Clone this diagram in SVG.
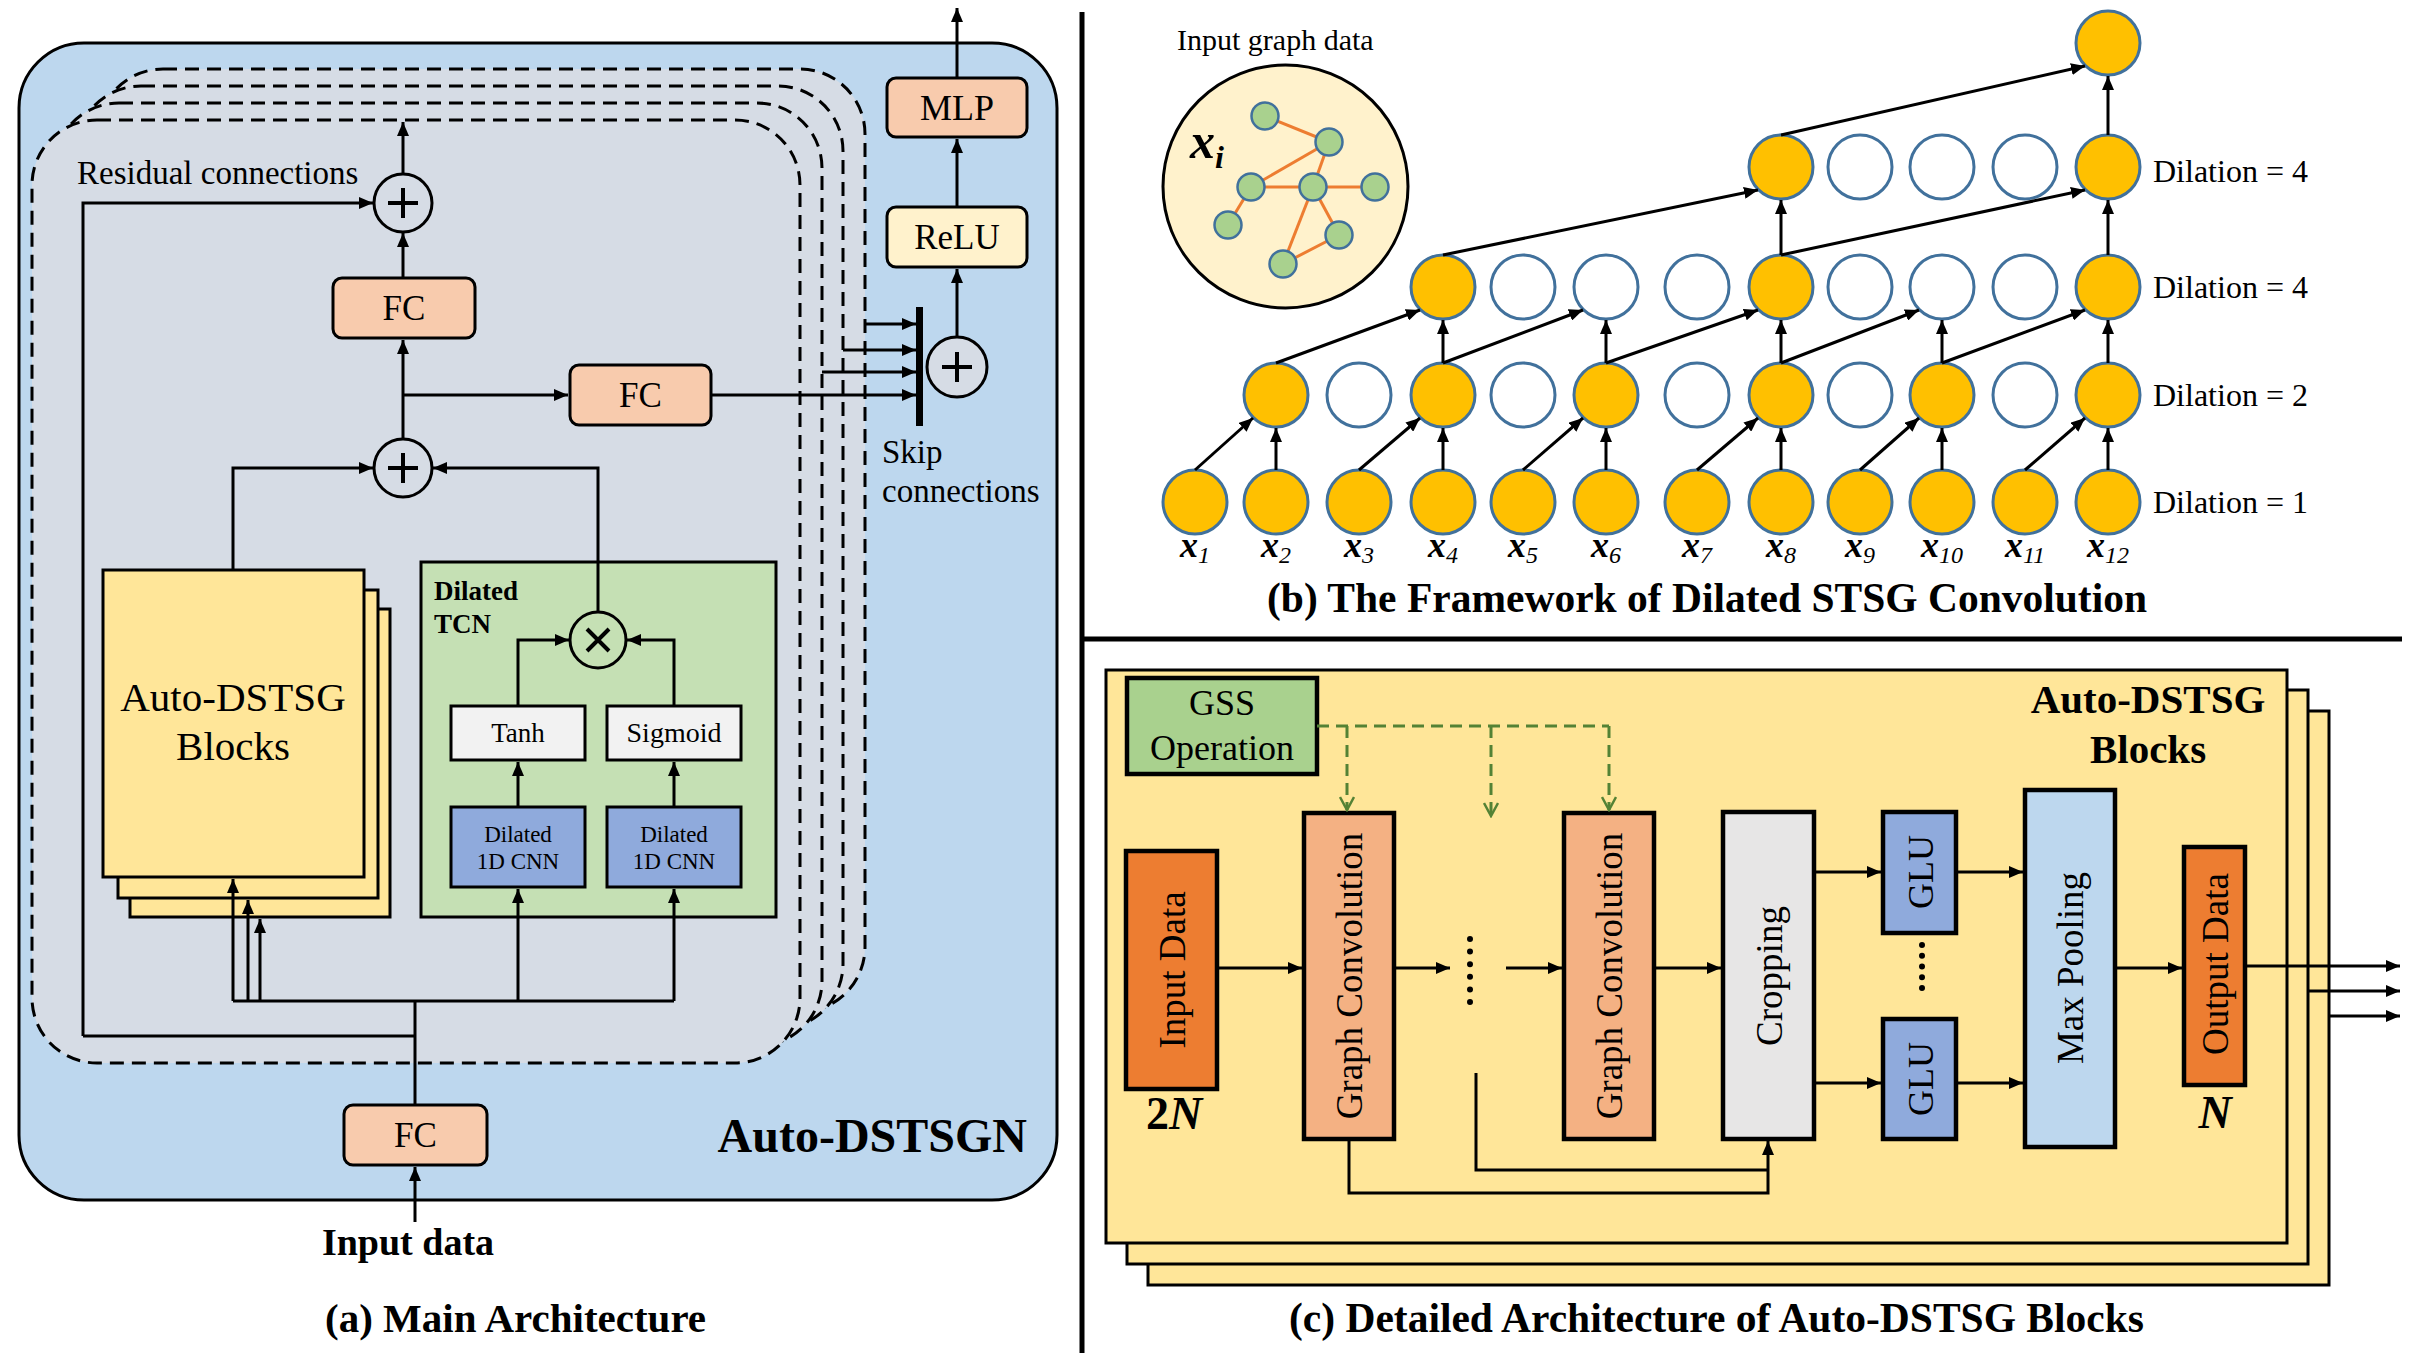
<svg xmlns="http://www.w3.org/2000/svg" width="2411" height="1353" viewBox="0 0 2411 1353">
<defs>
<marker id="ah" markerUnits="userSpaceOnUse" viewBox="0 0 14 12" refX="14" refY="6" markerWidth="14" markerHeight="12" orient="auto"><path d="M0,0 L14,6 L0,12 z" fill="#000"/></marker>
<marker id="ahg" markerUnits="userSpaceOnUse" viewBox="0 0 16 16" refX="14" refY="8" markerWidth="16" markerHeight="16" orient="auto"><path d="M1,1 L14,8 L1,15" fill="none" stroke="#548235" stroke-width="2.5"/></marker>
</defs>
<style>
text{font-family:"Liberation Serif","Times New Roman",serif;fill:#000}
.b{font-weight:bold}
.ln{fill:none;stroke:#000;stroke-width:3}
.ar{marker-end:url(#ah)}
.box{stroke:#000;stroke-width:3}
.cbox{stroke:#000;stroke-width:4.5}
.dash{fill:#D6DCE5;stroke:#000;stroke-width:3;stroke-dasharray:14 8}
.opc{fill:#D6DCE5;stroke:#000;stroke-width:3}
.sign{stroke:#000;stroke-width:4;fill:none}
.on{fill:#FFC000;stroke:#41719C;stroke-width:3}
.off{fill:#FFFFFF;stroke:#41719C;stroke-width:3}
.gn{fill:#A9D18E;stroke:#41719C;stroke-width:2.5}
.ge{stroke:#ED7D31;stroke-width:3}
.gd{fill:none;stroke:#548235;stroke-width:3;stroke-dasharray:12 7}
.rot{font-size:37px}
.lbl{font-size:32px}
.xl{font-size:36px;font-weight:bold;font-style:italic}
.xs{font-size:24px;font-weight:normal;font-style:italic}
.dots{stroke:#000;stroke-width:6;stroke-linecap:round;fill:none}
</style>

<!-- separators -->
<g id="separators">
<line x1="1082" y1="12" x2="1082" y2="1353" stroke="#000" stroke-width="5"/>
<line x1="1082" y1="639" x2="2402" y2="639" stroke="#000" stroke-width="5"/>
</g>

<!-- ================= Panel (a) ================= -->
<g id="a-outer">
<rect x="19" y="43" width="1038" height="1157" rx="65" fill="#BDD7EE" stroke="#000" stroke-width="3"/>
<text x="1027" y="1152" text-anchor="end" class="b" font-size="48">Auto-DSTSGN</text>
</g>
<g id="a-layers">
<rect class="dash" x="98" y="69" width="767" height="943" rx="65"/>
<rect class="dash" x="76" y="86" width="767" height="943" rx="65"/>
<rect class="dash" x="54" y="103" width="768" height="943" rx="65"/>
<rect class="dash" x="32" y="120" width="768" height="943" rx="65"/>
<text x="77" y="184" font-size="33">Residual connections</text>
</g>

<g id="a-plus-top">
<circle class="opc" cx="403" cy="203" r="29"/>
<path class="sign" d="M388,203 H418 M403,188 V218"/>
</g>
<g id="a-plus-mid">
<circle class="opc" cx="403" cy="468" r="29"/>
<path class="sign" d="M388,468 H418 M403,453 V483"/>
</g>
<g id="a-plus-skip">
<circle class="opc" cx="957" cy="367" r="30"/>
<path class="sign" d="M942,367 H972 M957,352 V382"/>
</g>
<g id="a-fc-top">
<rect class="box" x="333" y="278" width="142" height="60" rx="9" fill="#F8CBAD"/>
<text x="404" y="320" text-anchor="middle" font-size="35">FC</text>
</g>
<g id="a-fc-mid">
<rect class="box" x="570" y="365" width="141" height="60" rx="9" fill="#F8CBAD"/>
<text x="640.5" y="407" text-anchor="middle" font-size="35">FC</text>
</g>
<g id="a-fc-bottom">
<rect class="box" x="344" y="1105" width="143" height="60" rx="9" fill="#F8CBAD"/>
<text x="415.5" y="1147" text-anchor="middle" font-size="35">FC</text>
</g>
<g id="a-relu">
<rect class="box" x="887" y="207" width="140" height="60" rx="9" fill="#FFF2CC"/>
<text x="957" y="249" text-anchor="middle" font-size="35">ReLU</text>
</g>
<g id="a-mlp">
<rect class="box" x="887" y="78" width="140" height="59" rx="9" fill="#F8CBAD"/>
<text x="957" y="120" text-anchor="middle" font-size="36">MLP</text>
</g>
<g id="a-skip-label">
<text x="882" y="463" font-size="33">Skip</text>
<text x="882" y="502" font-size="33">connections</text>
</g>
<g id="a-blocks">
<rect class="box" x="130" y="609" width="260" height="308" fill="#FFE699"/>
<rect class="box" x="118" y="590" width="260" height="308" fill="#FFE699"/>
<rect class="box" x="103" y="570" width="261" height="307" fill="#FFE699"/>
<text x="233" y="711" text-anchor="middle" font-size="41">Auto-DSTSG</text>
<text x="233" y="760" text-anchor="middle" font-size="41">Blocks</text>
</g>
<g id="a-tcn">
<rect class="box" x="421" y="562" width="355" height="355" fill="#C5E0B4"/>
<text x="434" y="600" class="b" font-size="27">Dilated</text>
<text x="434" y="633" class="b" font-size="27">TCN</text>
</g>
<g id="a-mult">
<circle cx="598" cy="640" r="28" fill="#C5E0B4" stroke="#000" stroke-width="3"/>
<path class="sign" d="M587,629 L609,651 M609,629 L587,651"/>
</g>
<g id="a-tanh">
<rect class="box" x="451" y="706" width="134" height="54" fill="#F2F2F2"/>
<text x="518" y="742" text-anchor="middle" font-size="27">Tanh</text>
</g>
<g id="a-sigmoid">
<rect class="box" x="607" y="706" width="134" height="54" fill="#F2F2F2"/>
<text x="674" y="742" text-anchor="middle" font-size="28">Sigmoid</text>
</g>
<g id="a-cnn1">
<rect class="box" x="451" y="807" width="134" height="80" fill="#8FAADC"/>
<text x="518" y="842" text-anchor="middle" font-size="23">Dilated</text>
<text x="518" y="869" text-anchor="middle" font-size="23">1D CNN</text>
</g>
<g id="a-cnn2">
<rect class="box" x="607" y="807" width="134" height="80" fill="#8FAADC"/>
<text x="674" y="842" text-anchor="middle" font-size="23">Dilated</text>
<text x="674" y="869" text-anchor="middle" font-size="23">1D CNN</text>
</g>
<g id="a-labels">
<text x="408" y="1255" text-anchor="middle" class="b" font-size="38">Input data</text>
<text x="325" y="1332" class="b" font-size="41">(a) Main Architecture</text>
</g>

<g id="a-connectors">
<path class="ln ar" d="M403,174 V122"/>
<path class="ln ar" d="M403,278 V233"/>
<path class="ln ar" d="M83,1036 V203 H373"/>
<path class="ln ar" d="M403,439 V340"/>
<path class="ln ar" d="M403,395 H568"/>
<path class="ln ar" d="M711,395 H916"/>
<path class="ln ar" d="M865,324 H916"/>
<path class="ln ar" d="M843,350 H916"/>
<path class="ln ar" d="M822,372 H916"/>
<line x1="919.5" y1="307" x2="919.5" y2="426" stroke="#000" stroke-width="7"/>
<path class="ln ar" d="M957,337 V269"/>
<path class="ln ar" d="M957,207 V139"/>
<path class="ln ar" d="M957,78 V8"/>
<path class="ln ar" d="M233,570 V468 H373"/>
<path class="ln ar" d="M598,612 V468 H433"/>
<path class="ln ar" d="M518,706 V640 H569"/>
<path class="ln ar" d="M674,706 V640 H627"/>
<path class="ln ar" d="M518,807 V762"/>
<path class="ln ar" d="M674,807 V762"/>
<path class="ln" d="M233,1001 H674"/>
<path class="ln ar" d="M518,1001 V889"/>
<path class="ln ar" d="M674,1001 V889"/>
<path class="ln ar" d="M233,1001 V879"/>
<path class="ln ar" d="M248,1001 V900"/>
<path class="ln ar" d="M260,1001 V919"/>
<path class="ln" d="M415,1105 V1001"/>
<path class="ln" d="M83,1036 H415"/>
<path class="ln ar" d="M415,1222 V1167"/>
</g>

<!-- ================= Panel (b) ================= -->
<g id="b-graph">
<text x="1177" y="50" font-size="30">Input graph data</text>
<ellipse cx="1285.5" cy="186.5" rx="122.5" ry="121.5" fill="#FFF2CC" stroke="#000" stroke-width="3"/>
<line class="ge" x1="1265" y1="116" x2="1329" y2="142"/>
<line class="ge" x1="1329" y1="142" x2="1251" y2="187"/>
<line class="ge" x1="1329" y1="142" x2="1313" y2="187"/>
<line class="ge" x1="1251" y1="187" x2="1313" y2="187" stroke-width="5"/>
<line class="ge" x1="1313" y1="187" x2="1375" y2="187"/>
<line class="ge" x1="1251" y1="187" x2="1228" y2="225"/>
<line class="ge" x1="1313" y1="187" x2="1283" y2="264"/>
<line class="ge" x1="1313" y1="187" x2="1339" y2="235"/>
<line class="ge" x1="1339" y1="235" x2="1283" y2="264"/>
<circle class="gn" cx="1265" cy="116" r="13.5"/>
<circle class="gn" cx="1329" cy="142" r="13.5"/>
<circle class="gn" cx="1251" cy="187" r="13.5"/>
<circle class="gn" cx="1313" cy="187" r="13.5"/>
<circle class="gn" cx="1375" cy="187" r="13.5"/>
<circle class="gn" cx="1228" cy="225" r="13.5"/>
<circle class="gn" cx="1339" cy="235" r="13.5"/>
<circle class="gn" cx="1283" cy="264" r="13.5"/>
<text x="1190" y="158" font-size="50" font-weight="bold" font-style="italic">x<tspan font-size="32" dy="10">i</tspan></text>
</g>

<g id="b-row1">
<circle class="on" cx="1195" cy="502" r="32"/>
<circle class="on" cx="1276" cy="502" r="32"/>
<circle class="on" cx="1359" cy="502" r="32"/>
<circle class="on" cx="1443" cy="502" r="32"/>
<circle class="on" cx="1523" cy="502" r="32"/>
<circle class="on" cx="1606" cy="502" r="32"/>
<circle class="on" cx="1697" cy="502" r="32"/>
<circle class="on" cx="1781" cy="502" r="32"/>
<circle class="on" cx="1860" cy="502" r="32"/>
<circle class="on" cx="1942" cy="502" r="32"/>
<circle class="on" cx="2025" cy="502" r="32"/>
<circle class="on" cx="2108" cy="502" r="32"/>
</g>
<g id="b-row2">
<circle class="on" cx="1276" cy="395" r="32"/>
<circle class="off" cx="1359" cy="395" r="32"/>
<circle class="on" cx="1443" cy="395" r="32"/>
<circle class="off" cx="1523" cy="395" r="32"/>
<circle class="on" cx="1606" cy="395" r="32"/>
<circle class="off" cx="1697" cy="395" r="32"/>
<circle class="on" cx="1781" cy="395" r="32"/>
<circle class="off" cx="1860" cy="395" r="32"/>
<circle class="on" cx="1942" cy="395" r="32"/>
<circle class="off" cx="2025" cy="395" r="32"/>
<circle class="on" cx="2108" cy="395" r="32"/>
</g>
<g id="b-row3">
<circle class="on" cx="1443" cy="287" r="32"/>
<circle class="off" cx="1523" cy="287" r="32"/>
<circle class="off" cx="1606" cy="287" r="32"/>
<circle class="off" cx="1697" cy="287" r="32"/>
<circle class="on" cx="1781" cy="287" r="32"/>
<circle class="off" cx="1860" cy="287" r="32"/>
<circle class="off" cx="1942" cy="287" r="32"/>
<circle class="off" cx="2025" cy="287" r="32"/>
<circle class="on" cx="2108" cy="287" r="32"/>
</g>
<g id="b-row4">
<circle class="on" cx="1781" cy="167" r="32"/>
<circle class="off" cx="1860" cy="167" r="32"/>
<circle class="off" cx="1942" cy="167" r="32"/>
<circle class="off" cx="2025" cy="167" r="32"/>
<circle class="on" cx="2108" cy="167" r="32"/>
</g>
<g id="b-top">
<circle class="on" cx="2108" cy="43" r="32"/>
</g>

<g id="b-connectors">
<path class="ln ar" d="M1276,470 V428"/>
<path class="ln ar" d="M1443,470 V428"/>
<path class="ln ar" d="M1606,470 V428"/>
<path class="ln ar" d="M1781,470 V428"/>
<path class="ln ar" d="M1942,470 V428"/>
<path class="ln ar" d="M2108,470 V428"/>
<path class="ln ar" d="M1195,470 L1253,418"/>
<path class="ln ar" d="M1359,470 L1420,418"/>
<path class="ln ar" d="M1523,470 L1583,418"/>
<path class="ln ar" d="M1697,470 L1758,418"/>
<path class="ln ar" d="M1860,470 L1919,418"/>
<path class="ln ar" d="M2025,470 L2085,418"/>
<path class="ln ar" d="M1443,363 V320"/>
<path class="ln ar" d="M1606,363 V320"/>
<path class="ln ar" d="M1781,363 V320"/>
<path class="ln ar" d="M1942,363 V320"/>
<path class="ln ar" d="M2108,363 V320"/>
<path class="ln ar" d="M1276,363 L1420,310"/>
<path class="ln ar" d="M1443,363 L1583,310"/>
<path class="ln ar" d="M1606,363 L1758,310"/>
<path class="ln ar" d="M1781,363 L1919,310"/>
<path class="ln ar" d="M1942,363 L2085,310"/>
<path class="ln ar" d="M1781,255 V200"/>
<path class="ln ar" d="M2108,255 V200"/>
<path class="ln ar" d="M1443,255 L1758,190"/>
<path class="ln ar" d="M1781,255 L2085,190"/>
<path class="ln ar" d="M2108,135 V76"/>
<path class="ln ar" d="M1781,135 L2085,66"/>
</g>

<g id="b-labels">
<text class="lbl" x="2153" y="182">Dilation = 4</text>
<text class="lbl" x="2153" y="298">Dilation = 4</text>
<text class="lbl" x="2153" y="406">Dilation = 2</text>
<text class="lbl" x="2153" y="513">Dilation = 1</text>
<text class="xl" x="1195" y="557" text-anchor="middle">x<tspan class="xs" dy="6">1</tspan></text>
<text class="xl" x="1276" y="557" text-anchor="middle">x<tspan class="xs" dy="6">2</tspan></text>
<text class="xl" x="1359" y="557" text-anchor="middle">x<tspan class="xs" dy="6">3</tspan></text>
<text class="xl" x="1443" y="557" text-anchor="middle">x<tspan class="xs" dy="6">4</tspan></text>
<text class="xl" x="1523" y="557" text-anchor="middle">x<tspan class="xs" dy="6">5</tspan></text>
<text class="xl" x="1606" y="557" text-anchor="middle">x<tspan class="xs" dy="6">6</tspan></text>
<text class="xl" x="1697" y="557" text-anchor="middle">x<tspan class="xs" dy="6">7</tspan></text>
<text class="xl" x="1781" y="557" text-anchor="middle">x<tspan class="xs" dy="6">8</tspan></text>
<text class="xl" x="1860" y="557" text-anchor="middle">x<tspan class="xs" dy="6">9</tspan></text>
<text class="xl" x="1942" y="557" text-anchor="middle">x<tspan class="xs" dy="6">10</tspan></text>
<text class="xl" x="2025" y="557" text-anchor="middle">x<tspan class="xs" dy="6">11</tspan></text>
<text class="xl" x="2108" y="557" text-anchor="middle">x<tspan class="xs" dy="6">12</tspan></text>
<text x="1267" y="612" class="b" font-size="41.5">(b) The Framework of Dilated STSG Convolution</text>
</g>

<!-- ================= Panel (c) ================= -->
<g id="c-stack">
<rect class="box" x="1148" y="711" width="1181" height="574" fill="#FFE699"/>
<rect class="box" x="1127" y="690" width="1181" height="574" fill="#FFE699"/>
<rect class="box" x="1106" y="670" width="1181" height="573" fill="#FFE699"/>
<text x="2148" y="713" text-anchor="middle" class="b" font-size="41">Auto-DSTSG</text>
<text x="2148" y="763" text-anchor="middle" class="b" font-size="41">Blocks</text>
</g>
<g id="c-gss">
<rect class="cbox" x="1127" y="678" width="190" height="96" fill="#A9D18E"/>
<text x="1222" y="715" text-anchor="middle" font-size="36">GSS</text>
<text x="1222" y="760" text-anchor="middle" font-size="36">Operation</text>
</g>
<g id="c-input">
<rect class="cbox" x="1126" y="851" width="91" height="238" fill="#ED7D31"/>
<text class="rot" transform="translate(1171.5,970) rotate(-90)" x="0" y="13" text-anchor="middle">Input Data</text>
<text x="1174" y="1129" text-anchor="middle" class="b" font-size="46">2<tspan font-style="italic">N</tspan></text>
</g>
<g id="c-gc1">
<rect class="cbox" x="1304" y="813" width="90" height="326" fill="#F4B183"/>
<text class="rot" transform="translate(1349,976) rotate(-90)" x="0" y="13" text-anchor="middle">Graph Convolution</text>
</g>
<g id="c-gc2">
<rect class="cbox" x="1564" y="813" width="90" height="326" fill="#F4B183"/>
<text class="rot" transform="translate(1609,976) rotate(-90)" x="0" y="13" text-anchor="middle">Graph Convolution</text>
</g>
<g id="c-crop">
<rect class="cbox" x="1723" y="812" width="91" height="327" fill="#E7E6E6"/>
<text class="rot" transform="translate(1768.5,976) rotate(-90)" x="0" y="13" text-anchor="middle">Cropping</text>
</g>
<g id="c-glu1">
<rect class="cbox" x="1883" y="812" width="73" height="121" fill="#8FAADC"/>
<text transform="translate(1919.5,872) rotate(-90)" x="0" y="13" text-anchor="middle" font-size="36">GLU</text>
</g>
<g id="c-glu2">
<rect class="cbox" x="1883" y="1019" width="73" height="120" fill="#8FAADC"/>
<text transform="translate(1919.5,1079) rotate(-90)" x="0" y="13" text-anchor="middle" font-size="36">GLU</text>
</g>
<g id="c-maxpool">
<rect class="cbox" x="2025" y="790" width="90" height="357" fill="#BDD7EE"/>
<text class="rot" transform="translate(2070,968) rotate(-90)" x="0" y="13" text-anchor="middle">Max Pooling</text>
</g>
<g id="c-output">
<rect class="cbox" x="2184" y="847" width="61" height="238" fill="#ED7D31"/>
<text class="rot" transform="translate(2214.5,964) rotate(-90)" x="0" y="13" text-anchor="middle">Output Data</text>
<text x="2215" y="1128" text-anchor="middle" class="b" font-style="italic" font-size="46">N</text>
</g>
<g id="c-connectors">
<path class="gd" d="M1317,726 H1609"/>
<path class="gd" d="M1347,726 V810" marker-end="url(#ahg)"/>
<path class="gd" d="M1491,726 V816" marker-end="url(#ahg)"/>
<path class="gd" d="M1609,726 V810" marker-end="url(#ahg)"/>
<path class="ln ar" d="M1217,968 H1302"/>
<path class="ln ar" d="M1394,968 H1450"/>
<line class="dots" x1="1470" y1="939" x2="1470" y2="1003" stroke-dasharray="0 12.6"/>
<path class="ln ar" d="M1506,968 H1562"/>
<path class="ln ar" d="M1654,968 H1721"/>
<path class="ln ar" d="M1814,872 H1881"/>
<path class="ln ar" d="M1814,1083 H1881"/>
<path class="ln ar" d="M1956,872 H2023"/>
<path class="ln ar" d="M1956,1083 H2023"/>
<line class="dots" x1="1922" y1="945" x2="1922" y2="989" stroke-dasharray="0 10.75"/>
<path class="ln ar" d="M2115,968 H2182"/>
<path class="ln ar" d="M2245,966 H2400"/>
<path class="ln ar" d="M2309,991 H2400"/>
<path class="ln ar" d="M2329,1016 H2400"/>
<path class="ln ar" d="M1349,1139 V1193 H1768 V1141"/>
<path class="ln" d="M1476,1073 V1170 H1768"/>
</g>
<g id="c-caption">
<text x="1289" y="1332" class="b" font-size="41.5">(c) Detailed Architecture of Auto-DSTSG Blocks</text>
</g>
</svg>
